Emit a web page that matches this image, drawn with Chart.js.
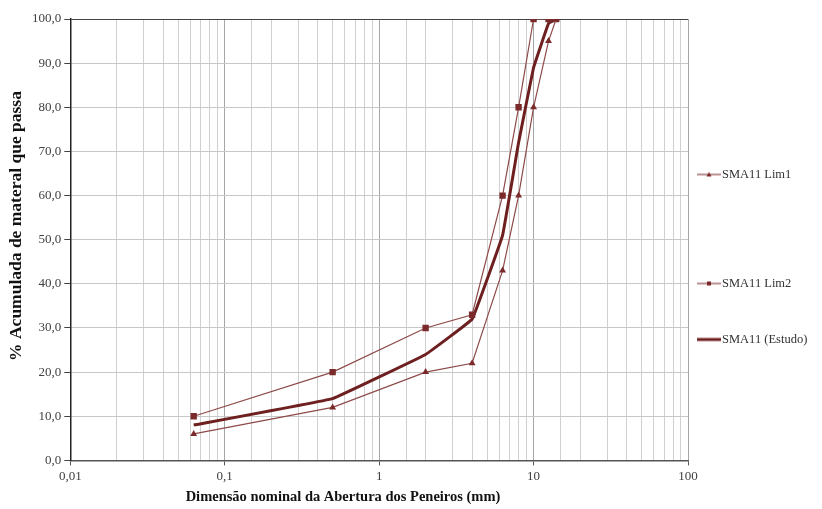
<!DOCTYPE html>
<html>
<head>
<meta charset="utf-8">
<script src="https://cdn.jsdelivr.net/npm/chart.js@4/dist/chart.umd.min.js"></script>
<style>
  html, body { margin: 0; padding: 0; background: #fff; }
  #wrap { position: relative; width: 822px; height: 509px; }
  #legend { position: absolute; left: 0; top: 0; font-family: 'Liberation Serif', serif; font-size: 12.5px; color: #333; }
  .leg { position: absolute; left: 697px; display: flex; align-items: center; white-space: nowrap; transform: translateY(-50%); }
  .leg canvas { margin-right: 1px; }
</style>
</head>
<body>
<div id="wrap">
  <canvas id="c" width="822" height="509"></canvas>
  <div id="legend"></div>
</div>
<script>
const $ = (id) => document.getElementById(id);

// sieve openings (mm) and % passing
const sieves = [0.063, 0.5, 2, 4, 6.3, 8, 10, 12.5, 14];
const lim1 = [6, 12, 20, 22, 43, 60, 80, 95, 100];
const lim2 = [10, 20, 30, 33, 60, 80, 100, 100, 100];
const estudo = [8, 14, 24, 32, 51, 72, 89, 99, 100];
const labels = ['SMA11 Lim1', 'SMA11 Lim2', 'SMA11 (Estudo)'];
const xTitle = 'Dimensão nominal da Abertura dos Peneiros (mm)';
const yTitle = '% Acumulada de materal que passa';
const legendY = [174, 283, 339];

const SERIF = "'Liberation Serif', serif";
const FONT = { family: SERIF, size: 13 };
const pts = (vals) => vals.map((v, i) => ({ x: sieves[i], y: v }));
const isDecade = (v) => Math.abs(Math.log10(v) - Math.round(Math.log10(v))) < 1e-6;

const datasets = [
    { label: labels[0], data: pts(lim1), borderColor: '#8e4a4a', backgroundColor: '#7a2a2a', borderWidth: 1.2,
      pointStyle: 'triangle', pointRadius: 4, pointBorderWidth: 0, tension: 0 },
    { label: labels[1], data: pts(lim2), borderColor: '#8e4a4a', backgroundColor: '#7a2a2a', borderWidth: 1.2,
      pointStyle: 'rect', pointRadius: 4.5, pointBorderWidth: 0, tension: 0 },
    { label: labels[2], data: pts(estudo), borderColor: '#6e1f1f', backgroundColor: '#6e1f1f', borderWidth: 3,
      pointRadius: 0, tension: 0.05 }
];

// axis titles placed like the original (not centred on the plot)
const titles = {
    id: 'titles',
    afterDraw(chart) {
        const g = chart.ctx;
        g.save();
        g.fillStyle = '#111';
        g.font = `bold 14.5px ${SERIF}`;
        g.textAlign = 'center';
        g.textBaseline = 'middle';
        g.fillText(xTitle, 343, 497);
        g.translate(16, 226);
        g.rotate(-Math.PI / 2);
        g.font = `bold 17.5px ${SERIF}`;
        g.fillText(yTitle, 0, 0);
        g.restore();
    }
};

new Chart($('c'), {
    type: 'line',
    data: { datasets },
    options: {
        responsive: false,
        animation: false,
        layout: { padding: { top: 19, right: 134, bottom: 22, left: 29 } },
        plugins: { legend: { display: false }, tooltip: { enabled: false } },
        scales: {
            x: {
                type: 'logarithmic', min: 0.01, max: 100,
                grid: {
                    color: (c) => isDecade(c.tick.value) ? '#a6a6a6' : '#d0d0d0',
                    tickColor: (c) => isDecade(c.tick.value) ? '#555' : 'rgba(0,0,0,0)',
                    tickLength: 5
                },
                border: { color: '#555', width: 1.5 },
                ticks: {
                    autoSkip: false, maxRotation: 0, color: '#404040', font: FONT, padding: 3,
                    callback: (v) => isDecade(v) ? String(v).replace('.', ',') : ''
                }
            },
            y: {
                min: 0, max: 100,
                grid: {
                    color: (c) => c.tick.value === 100 ? '#444' : '#c8c8c8',
                    tickColor: '#444', tickLength: 6
                },
                border: { color: '#222', width: 1.5 },
                ticks: { stepSize: 10, color: '#404040', font: FONT, padding: 3,
                         callback: (v) => v.toFixed(1).replace('.', ',') }
            }
        }
    },
    plugins: [titles]
});

// legend with the original uneven spacing
datasets.forEach((d, i) => {
    const row = document.createElement('div');
    row.className = 'leg';
    row.style.top = legendY[i] + 'px';
    const sw = document.createElement('canvas');
    sw.width = 24; sw.height = 10;
    const g = sw.getContext('2d');
    g.strokeStyle = d.borderColor; g.lineWidth = d.borderWidth;
    g.beginPath(); g.moveTo(0, 5); g.lineTo(24, 5); g.stroke();
    g.fillStyle = d.backgroundColor;
    if (d.pointStyle === 'rect') g.fillRect(10, 3, 4, 4);
    if (d.pointStyle === 'triangle') { g.beginPath(); g.moveTo(12, 2.5); g.lineTo(14.5, 7); g.lineTo(9.5, 7); g.fill(); }
    row.appendChild(sw);
    const t = document.createElement('span');
    t.textContent = d.label;
    row.appendChild(t);
    $('legend').appendChild(row);
});
</script>
</body>
</html>
